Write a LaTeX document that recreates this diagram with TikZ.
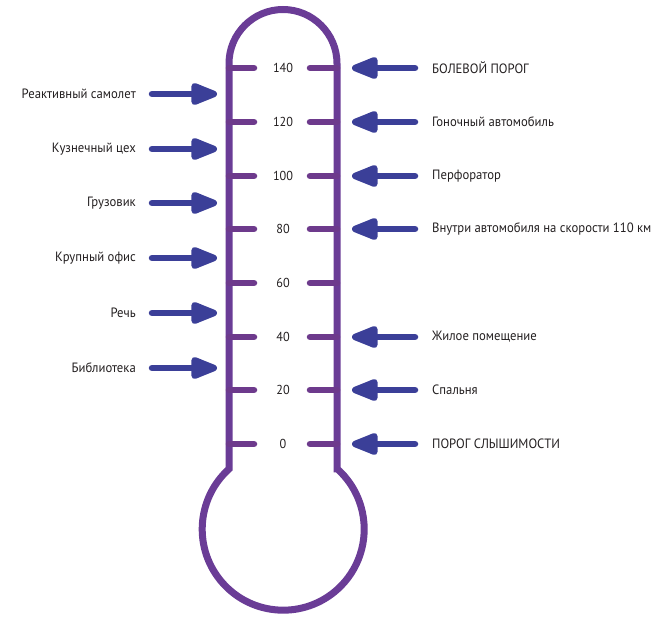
\documentclass[tikz,border=0pt]{standalone}
\usepackage{fontspec}
\setmainfont[FakeStretch=0.94]{PT Sans}
\usetikzlibrary{arrows.meta}
\definecolor{tubec}{HTML}{6A3C96}
\definecolor{tickc}{HTML}{6D3A8C}
\definecolor{arrc}{HTML}{3B3F98}
\definecolor{txtc}{HTML}{231F20}
\tikzset{
  tube/.style={draw=tubec, line width=7pt},
  tickline/.style={draw=tickc, line width=6.5pt, line cap=round},
  arr/.style={draw=arrc, line width=6.5pt, line cap=round, -{Triangle[length=32pt,width=23pt,round=false]}},
  lbl/.style={text=txtc, font=\fontsize{13.5}{15}\selectfont, inner sep=0pt},
  num/.style={text=txtc, font=\fontsize{13}{15}\selectfont, inner sep=0pt},
}
\begin{document}
\begin{tikzpicture}[x=1pt,y=1pt]
\useasboundingbox (0,0) rectangle (664,616);
% thermometer outline
\draw[tube] (337,147) -- (337,552.5) arc[start angle=0,end angle=180,radius=54]
  -- (229,147) arc[start angle=132,end angle=408,radius=81] -- cycle;
% ticks and scale numbers
\foreach \v/\Y in {140/548,120/494,100/440,80/387,60/333,40/279,20/226,0/172}{
  \coordinate (tl\v) at (229,\Y);
  \coordinate (tle\v) at (254,\Y);
  \coordinate (tr\v) at (337,\Y);
  \coordinate (tre\v) at (310,\Y);
  \draw[tickline] (tl\v) -- (tle\v);
  \draw[tickline] (tr\v) -- (tre\v);
  \node[num] (n\v) at (283,\Y) {\v};
}
% right labels and arrows
\foreach \v/\Y/\t in {140/548/БОЛЕВОЙ ПОРОГ,120/494/Гоночный автомобиль,100/440/Перфоратор,
  80/387/Внутри автомобиля на скорости 110 км/ч,40/279/Жилое помещение,20/226/Спальня,0/172/ПОРОГ СЛЫШИМОСТИ}{
  \node[lbl, anchor=west] (r\v) at (432,\Y) {\t};
  \coordinate (rs\v) at (415,\Y);
  \coordinate (rt\v) at (352,\Y);
  \draw[arr] (rs\v) -- (rt\v);
}
% left labels and arrows
\foreach \i/\Y/\t in {1/522/Реактивный самолет,2/467/Кузнечный цех,3/413/Грузовик,
  4/358/Крупный офис,5/303/Речь,6/248/Библиотека}{
  \node[lbl, anchor=east] (l\i) at (136,\Y) {\t};
  \coordinate (ls\i) at (152,\Y);
  \coordinate (lt\i) at (217,\Y);
  \draw[arr] (ls\i) -- (lt\i);
}
\end{tikzpicture}
\end{document}
